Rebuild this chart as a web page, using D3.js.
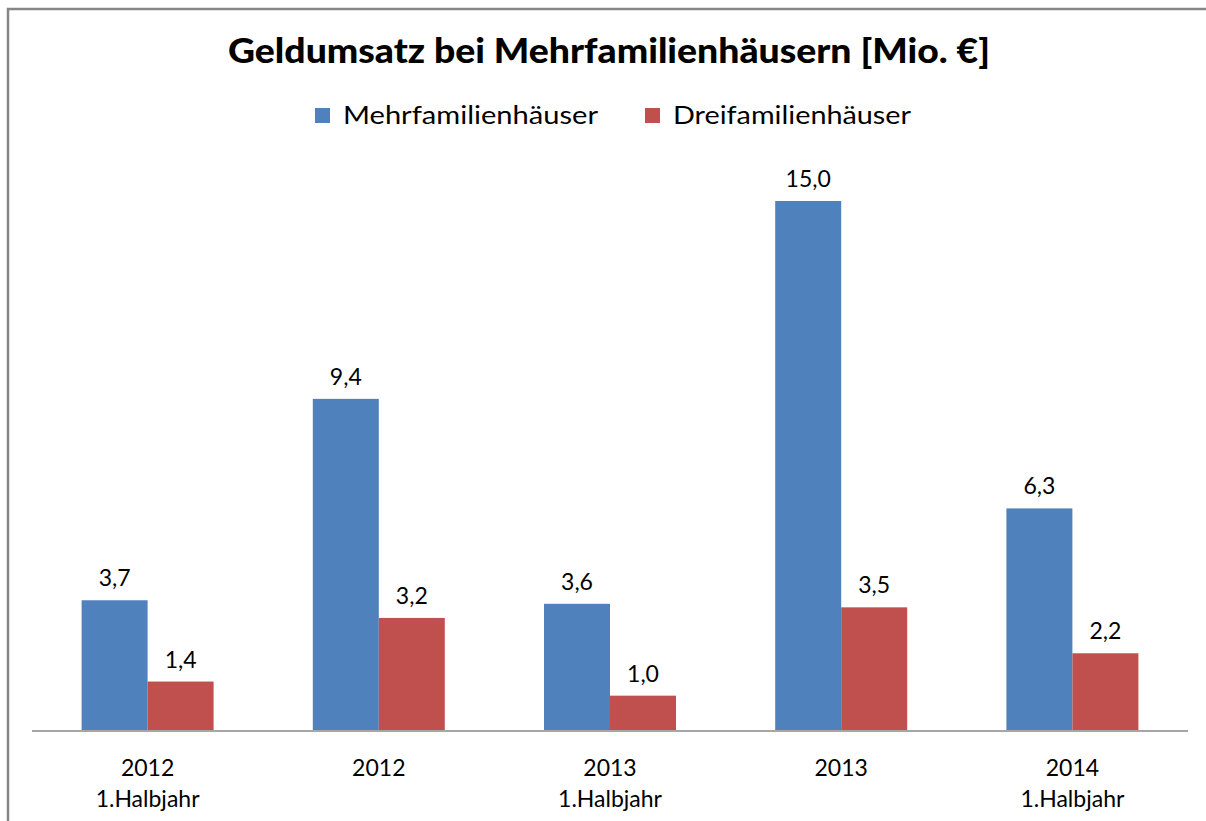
<!DOCTYPE html>
<html>
<head>
<meta charset="utf-8">
<script src="https://cdn.jsdelivr.net/npm/d3@7"></script>
<style>
  body { margin: 0; background: #fff; }
  text { font-family: Lato, "Open Sans", sans-serif; fill: #000; }
</style>
</head>
<body>
<svg id="chart"></svg>
<script>
const categories = [["2012", "1.Halbjahr"], ["2012"], ["2013", "1.Halbjahr"], ["2013"], ["2014", "1.Halbjahr"]];
const seriesNames = ["Mehrfamilienhäuser", "Dreifamilienhäuser"];
const mehrfamilien = [3.7, 9.4, 3.6, 15.0, 6.3];
const dreifamilien = [1.4, 3.2, 1.0, 3.5, 2.2];
const colors = ["#4f81bd", "#c0504d"];

const width = 1206, height = 821;
const margin = { top: 201, bottom: 90, left: 32, right: 18 };

const svg = d3.select("#chart")
  .attr("width", width)
  .attr("height", height);

// chart border (only left and top visible)
svg.append("path")
  .attr("d", `M8,${height} V9 H${width}`)
  .attr("fill", "none")
  .attr("stroke", "#868686")
  .attr("stroke-width", 2.5);

let innerW = width - margin.left - margin.right;
let innerH = height - margin.top - margin.bottom;

const chart = svg.append("g")
  .attr("transform", `translate(${margin.left},${margin.top})`);

const x0 = d3.scaleBand()
  .domain(d3.range(categories.length))
  .range([0, innerW]);

const barW = 66;
const x1 = d3.scaleBand()
  .domain([0, 1])
  .range([0, barW * 2]);

const y = d3.scaleLinear()
  .domain([0, 15])
  .range([innerH, 0]);

const rows = categories.map((c, i) => ({ i, vals: [mehrfamilien[i], dreifamilien[i]] }));

const groups = chart.selectAll(".grp")
  .data(rows)
  .join("g")
  .attr("class", "grp")
  .attr("transform", d => `translate(${x0(d.i) + (x0.bandwidth() - barW * 2) / 2},0)`);

groups.selectAll("rect")
  .data(d => d.vals.map((v, s) => ({ v, s })))
  .join("rect")
  .attr("x", d => x1(d.s))
  .attr("y", d => y(d.v))
  .attr("width", x1.bandwidth())
  .attr("height", d => y(0) - y(d.v))
  .attr("fill", d => colors[d.s]);

groups.selectAll(".val")
  .data(d => d.vals.map((v, s) => ({ v, s })))
  .join("text")
  .attr("class", "val")
  .attr("x", d => x1(d.s) + x1.bandwidth() / 2)
  .attr("y", d => y(d.v) - 14)
  .attr("text-anchor", "middle")
  .style("font-size", "23px")
  .text(d => d3.format(".1f")(d.v).replace(".", ","));

// x axis line
chart.append("line")
  .attr("x1", 0).attr("x2", innerW)
  .attr("y1", y(0)).attr("y2", y(0))
  .attr("stroke", "#a6a6a6")
  .attr("stroke-width", 2);

// category labels
const labels = chart.selectAll(".cat")
  .data(categories)
  .join("text")
  .attr("class", "cat")
  .attr("x", (d, i) => x0(i) + x0.bandwidth() / 2)
  .attr("y", y(0) + 45)
  .attr("text-anchor", "middle")
  .style("font-size", "23px");
labels.selectAll("tspan")
  .data(d => d)
  .join("tspan")
  .attr("x", function() { return this.parentNode.getAttribute("x"); })
  .attr("dy", (d, i) => i === 0 ? 0 : 31)
  .text(d => d);

// title
svg.append("text")
  .attr("x", 609)
  .attr("y", 63)
  .attr("text-anchor", "middle")
  .attr("textLength", 762)
  .attr("lengthAdjust", "spacingAndGlyphs")
  .style("font-size", "34px")
  .style("font-weight", "900")
  .text("Geldumsatz bei Mehrfamilienhäusern [Mio. €]");

// legend
const legendX = [315, 645];
const legendTextW = [255, 238];
const legend = svg.selectAll(".leg")
  .data(seriesNames)
  .join("g")
  .attr("class", "leg")
  .attr("transform", (d, i) => `translate(${legendX[i]},108)`);
legend.append("rect")
  .attr("width", 15).attr("height", 15)
  .attr("fill", (d, i) => colors[i]);
legend.append("text")
  .attr("x", 28)
  .attr("y", 16)
  .attr("textLength", (d, i) => legendTextW[i])
  .attr("lengthAdjust", "spacingAndGlyphs")
  .style("font-size", "25px")
  .text(d => d);
</script>
</body>
</html>
